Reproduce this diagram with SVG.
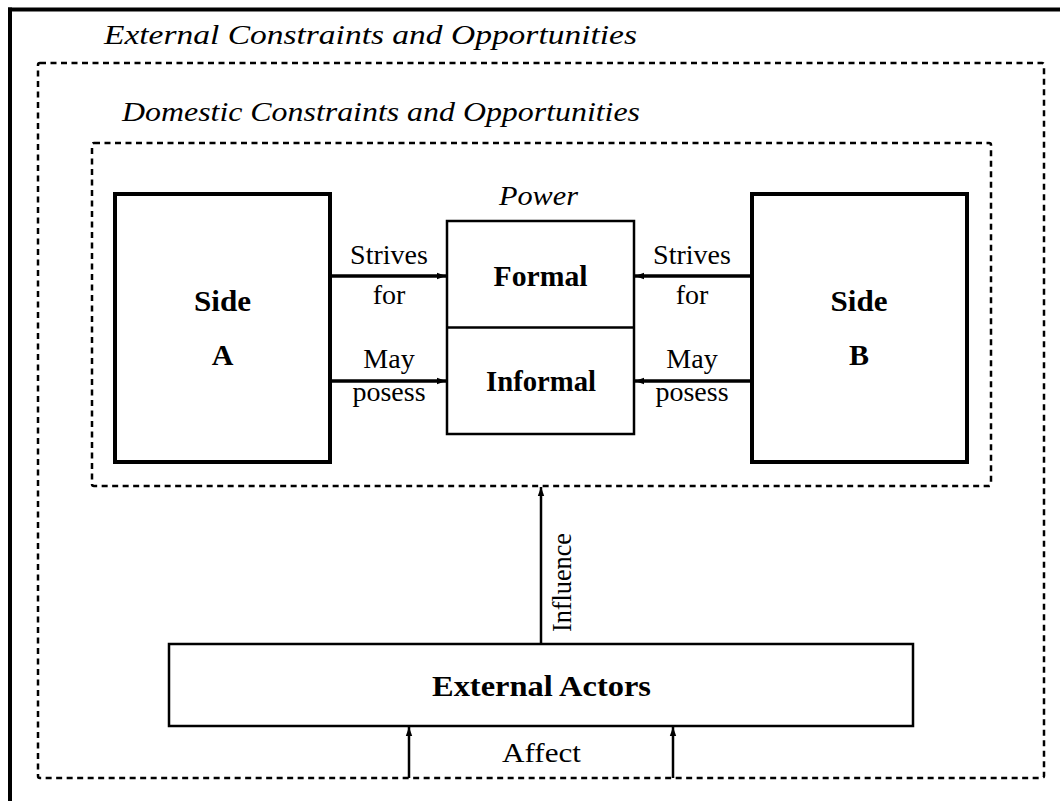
<svg xmlns="http://www.w3.org/2000/svg" width="1060" height="803" viewBox="0 0 1060 803" font-family="'Liberation Serif', 'Times New Roman', Times, serif">
<defs>
<style>
text{font-family:'Liberation Serif', 'Times New Roman', Times, serif;fill:#000}
.it{font-style:italic;font-size:28px}
.bd{font-weight:bold;font-size:30px;text-anchor:middle}
.rg{font-size:28px;text-anchor:middle}
.dash{fill:none;stroke:#000;stroke-width:2.5;stroke-dasharray:6 4.5}
.thick{fill:#fff;stroke:#000;stroke-width:4}
.thin{fill:#fff;stroke:#000;stroke-width:2.5}
.arrH{stroke:#000;stroke-width:3.5;fill:none}
.arrV{stroke:#000;stroke-width:2.5;fill:none}
</style>
<marker id="ah" markerUnits="userSpaceOnUse" markerWidth="10" markerHeight="8" refX="9" refY="4" orient="auto">
<path d="M0,0.8 L9,4 L0,7.2 z" fill="#000"/>
</marker>
</defs>
<rect width="1060" height="803" fill="#fff"/>
<g id="outer-frame">
<line x1="8" y1="9.5" x2="1060" y2="9.5" stroke="#000" stroke-width="4"/>
<line x1="10" y1="7.5" x2="10" y2="801" stroke="#000" stroke-width="4"/>
<text class="it" x="104" y="44" textLength="533" lengthAdjust="spacingAndGlyphs">External Constraints and Opportunities</text>
</g>
<g id="external-constraints">
<rect class="dash" x="38" y="63" width="1006" height="715" rx="2"/>
</g>
<g id="domestic-constraints">
<rect class="dash" x="92" y="143" width="899" height="343" rx="2"/>
<text class="it" x="122" y="121" textLength="518" lengthAdjust="spacingAndGlyphs">Domestic Constraints and Opportunities</text>
</g>
<g id="side-a">
<rect class="thick" x="115" y="194" width="215" height="268"/>
<text class="bd" x="222.5" y="311" textLength="57" lengthAdjust="spacingAndGlyphs">Side</text>
<text class="bd" x="222.5" y="365">A</text>
</g>
<g id="side-b">
<rect class="thick" x="752" y="194" width="215" height="268"/>
<text class="bd" x="859" y="311" textLength="57" lengthAdjust="spacingAndGlyphs">Side</text>
<text class="bd" x="859" y="365">B</text>
</g>
<g id="power">
<text class="it" x="538.5" y="205" text-anchor="middle" textLength="79" lengthAdjust="spacingAndGlyphs">Power</text>
<rect class="thin" x="447" y="221" width="187" height="213"/>
<line x1="447" y1="327.5" x2="634" y2="327.5" stroke="#000" stroke-width="2.5"/>
<text class="bd" x="540.5" y="286" textLength="94" lengthAdjust="spacingAndGlyphs">Formal</text>
<text class="bd" x="541" y="391" textLength="110" lengthAdjust="spacingAndGlyphs">Informal</text>
</g>
<g id="external-actors">
<rect class="thin" x="169" y="644" width="744" height="82"/>
<text class="bd" x="541.5" y="696" textLength="219" lengthAdjust="spacingAndGlyphs">External Actors</text>
</g>
<g id="connectors">
<line class="arrH" x1="332" y1="276" x2="446" y2="276" marker-end="url(#ah)"/>
<line class="arrH" x1="332" y1="381" x2="446" y2="381" marker-end="url(#ah)"/>
<line class="arrH" x1="750" y1="276" x2="635" y2="276" marker-end="url(#ah)"/>
<line class="arrH" x1="750" y1="381" x2="635" y2="381" marker-end="url(#ah)"/>
<line class="arrV" x1="541" y1="644" x2="541" y2="487" marker-end="url(#ah)"/>
<line class="arrV" x1="409" y1="778" x2="409" y2="727" marker-end="url(#ah)"/>
<line class="arrV" x1="673" y1="778" x2="673" y2="727" marker-end="url(#ah)"/>
<text class="rg" x="389" y="264">Strives</text>
<text class="rg" x="389" y="304">for</text>
<text class="rg" x="389" y="368">May</text>
<text class="rg" x="389" y="401">posess</text>
<text class="rg" x="692" y="264">Strives</text>
<text class="rg" x="692" y="304">for</text>
<text class="rg" x="692" y="368">May</text>
<text class="rg" x="692" y="401">posess</text>
<text class="rg" x="0" y="0" font-size="26" transform="translate(571,582.5) rotate(-90)" textLength="99" lengthAdjust="spacingAndGlyphs">Influence</text>
<text class="rg" x="541.5" y="762" textLength="79" lengthAdjust="spacingAndGlyphs">Affect</text>
</g>
</svg>
